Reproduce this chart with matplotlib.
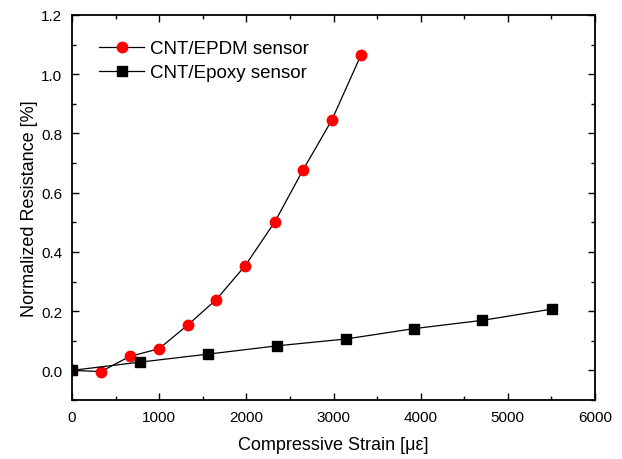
import matplotlib.pyplot as plt
from matplotlib.ticker import MultipleLocator

plt.rcParams['font.family'] = ['Liberation Sans', 'DejaVu Sans']

# CNT/EPDM sensor
epdm_strain = [0, 333, 661, 998, 1327, 1655, 1988, 2328, 2649, 2982, 3314]
epdm_res = [0.0, -0.004, 0.047, 0.073, 0.153, 0.239, 0.354, 0.502, 0.676, 0.846, 1.064]

# CNT/Epoxy sensor
epoxy_strain = [0, 783, 1563, 2355, 3142, 3922, 4709, 5505]
epoxy_res = [0.0, 0.028, 0.055, 0.083, 0.106, 0.141, 0.169, 0.207]

fig = plt.figure(figsize=(6.22, 4.6), dpi=100)
ax = fig.add_axes([72/622, 1 - 401/460, (595-72)/622, (401-16)/460])

ax.plot(epdm_strain, epdm_res, color='black', lw=0.9, marker='o', ms=7.5,
        mfc='red', mec='red', label='CNT/EPDM sensor', zorder=2)
ax.plot(epoxy_strain, epoxy_res, color='black', lw=0.9, marker='s', ms=6.5,
        mfc='black', mec='black', label='CNT/Epoxy sensor', zorder=3)

ax.set_xlim(0, 6000)
ax.set_ylim(-0.1, 1.2)
ax.xaxis.set_major_locator(MultipleLocator(1000))
ax.xaxis.set_minor_locator(MultipleLocator(500))
ax.yaxis.set_major_locator(MultipleLocator(0.2))
ax.yaxis.set_minor_locator(MultipleLocator(0.1))
ax.yaxis.set_major_formatter(plt.FormatStrFormatter('%.1f'))

ax.tick_params(which='both', direction='in', top=True, right=True, labelsize=11, width=1)
ax.tick_params(which='major', length=5, pad=7)
ax.tick_params(which='minor', length=3)
for s in ax.spines.values():
    s.set_linewidth(1.3)

ax.set_xlabel('Compressive Strain [\u03bc\u03b5]', fontsize=13, labelpad=9)
ax.set_ylabel('Normalized Resistance [%]', fontsize=13, labelpad=2)

ax.legend(loc='upper left', frameon=False, fontsize=13.5, handlelength=2.4,
          handletextpad=0.3, labelspacing=0.35, bbox_to_anchor=(0.02, 0.978))

fig.savefig('out.png', dpi=100)
